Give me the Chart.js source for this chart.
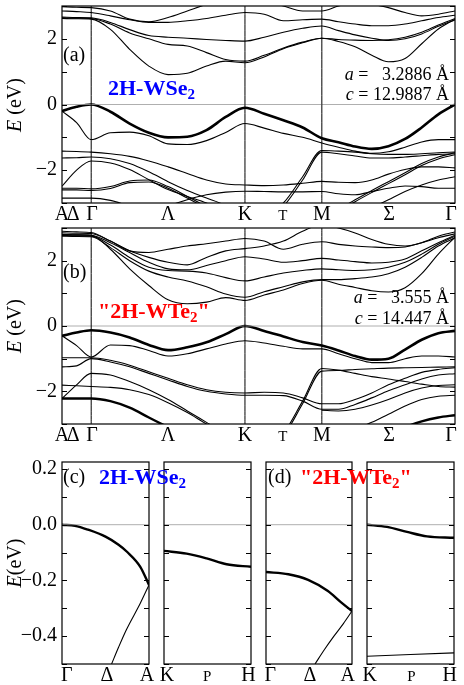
<!DOCTYPE html>
<html>
<head>
<meta charset="utf-8">
<script src="https://cdn.jsdelivr.net/npm/chart.js@4.4.1/dist/chart.umd.min.js"></script>
<style>
  html, body { margin: 0; padding: 0; background: #fff; }
  #fig { position: relative; width: 464px; height: 685px; overflow: hidden;
         font-family: "Liberation Serif", "Times New Roman", serif; color: #000; }
  canvas { position: absolute; }
  .lbl { position: absolute; white-space: pre; line-height: 1; }
  .sys { font-weight: bold; font-size: 22px; }
  .sys sub { font-size: 15px; vertical-align: -4px; line-height: 0; }
  .par { font-size: 18px; }
  .ylab { position: absolute; font-size: 20px; line-height: 1; white-space: nowrap;
          transform: translate(-50%, -50%) rotate(-90deg); }
</style>
</head>
<body>
<div id="fig">
  <canvas id="cA" width="464" height="225" style="left:0;top:0"></canvas>
  <canvas id="cB" width="464" height="224" style="left:0;top:222px"></canvas>
  <canvas id="cC1" width="157" height="230" style="left:0;top:455px"></canvas>
  <canvas id="cC2" width="100" height="230" style="left:157px;top:455px"></canvas>
  <canvas id="cD1" width="100" height="230" style="left:257px;top:455px"></canvas>
  <canvas id="cD2" width="106" height="230" style="left:358px;top:455px"></canvas>

  <div class="ylab" style="left:14px;top:105px"><i>E</i> (eV)</div>
  <div class="ylab" style="left:14px;top:326px"><i>E</i> (eV)</div>
  <div class="ylab" style="left:14px;top:563px"><i>E</i>(eV)</div>

  <div class="lbl" style="left:63px;top:44px;font-size:20px">(a)</div>
  <div class="lbl sys" style="left:108px;top:77px;color:#0000ff">2H-WSe<sub>2</sub></div>
  <div class="lbl par" style="right:15px;top:65px"><i>a</i> =   3.2886 Å</div>
  <div class="lbl par" style="right:15px;top:85px"><i>c</i> = 12.9887 Å</div>

  <div class="lbl" style="left:63px;top:261px;font-size:20px">(b)</div>
  <div class="lbl sys" style="left:98px;top:300px;color:#ff0000">"2H-WTe<sub>2</sub>"</div>
  <div class="lbl par" style="right:15px;top:288px"><i>a</i> =   3.555 Å</div>
  <div class="lbl par" style="right:15px;top:309px"><i>c</i> = 14.447 Å</div>

  <div class="lbl" style="left:63px;top:466px;font-size:20px">(c)</div>
  <div class="lbl sys" style="left:99px;top:466px;color:#0000ff">2H-WSe<sub>2</sub></div>
  <div class="lbl" style="left:268px;top:466px;font-size:20px">(d)</div>
  <div class="lbl sys" style="left:300px;top:466px;color:#ff0000">"2H-WTe<sub>2</sub>"</div>
</div>

<script>
// ---------- path A-Γ-K-M-Γ (k in units of 2π/a) ----------
const kPts = [0, 0.0633, 0.1266, 0.2099, 0.2933, 0.3766, 0.4599, 0.5433, 0.6266, 0.7099, 0.7933,
              0.8766, 0.9599, 1.0433, 1.1266, 1.1988, 1.2709, 1.3431, 1.4153, 1.4875, 1.5596, 1.6318, 1.704];
const kEnd = 1.704;
const symK = [0.1266, 0.7933, 1.1266];            // Γ, K, M
const pathTicks = [0, 0.048, 0.130, 0.46, 0.7933, 0.958, 1.1266, 1.418, 1.687];
const pathLabels = ['A', 'Δ', 'Γ', 'Λ', 'K', 'T', 'M', 'Σ', 'Γ'];
const eTicks = [-3, -2, -1, 0, 1, 2, 3];

// ---------- (a) 2H-WSe2 ----------
const wse2Top = [-0.2, -0.07, 0, -0.22, -0.58, -0.86, -1.0, -0.98, -0.78, -0.38, -0.1, -0.28, -0.48, -0.7, -1.03, -1.15, -1.28, -1.35, -1.27, -1.05, -0.7, -0.3, 0];
const wse2Cond = [
  [2.62, 2.61, 2.6, 2.29, 1.68, 1.17, 0.91, 0.95, 1.17, 1.32, 1.27, 1.45, 1.7, 1.88, 2.02, 1.92, 1.76, 1.5, 1.3, 1.4, 1.85, 2.3, 2.6],
  [2.64, 2.63, 2.62, 2.45, 2.18, 2.0, 1.83, 1.78, 1.58, 1.37, 1.32, 1.5, 1.72, 1.9, 2.02, 1.98, 1.96, 1.95, 1.97, 2.05, 2.2, 2.42, 2.62],
  [2.66, 2.65, 2.64, 2.5, 2.28, 2.1, 2.05, 2.02, 1.98, 1.95, 1.93, 2.05, 2.2, 2.32, 2.39, 2.25, 2.12, 2.02, 1.95, 2.0, 2.15, 2.38, 2.58],
  [2.85, 2.83, 2.8, 2.7, 2.58, 2.5, 2.5, 2.55, 2.62, 2.72, 2.8, 2.75, 2.55, 2.58, 2.6, 2.52, 2.45, 2.4, 2.4, 2.45, 2.55, 2.65, 2.72],
  [2.98, 2.96, 2.95, 2.85, 2.6, 2.52, 2.65, 2.85, 3.05, 3.2, 3.2, 3.15, 3.0, 2.85, 2.85, 3.0, 3.1, 3.05, 2.95, 2.8, 2.7, 2.75, 2.85]
];
const wse2Val = [
  [-0.2, -0.55, -1.07, -0.86, -0.84, -0.95, -1.2, -1.22, -1.1, -0.85, -0.58, -0.72, -0.88, -1.0, -1.17, -1.3, -1.42, -1.49, -1.44, -1.3, -1.14, -1.07, -1.07],
  [-1.42, -1.43, -1.45, -1.5, -1.58, -1.72, -1.9, -2.1, -2.3, -2.42, -2.45, -2.47, -2.45, -2.4, -2.34, -2.37, -2.38, -2.3, -2.12, -1.98, -1.9, -1.9, -1.93],
  [-2.49, -2.0, -1.72, -1.78, -1.98, -2.29, -2.59, -2.8, -3.0, -3.3, -3.6, -3.4, -3.0, -2.2, -1.4, -1.42, -1.45, -1.5, -1.52, -1.52, -1.5, -1.47, -1.45],
  [-1.63, -1.62, -1.6, -1.65, -1.8, -2.05, -2.35, -2.62, -2.85, -3.1, -3.7, -3.5, -3.1, -2.3, -1.45, -1.5, -1.57, -1.63, -1.63, -1.6, -1.56, -1.52, -1.5],
  [-2.55, -2.55, -2.57, -2.5, -2.33, -2.3, -2.5, -2.8, -3.1, -3.3, null, null, null, null, null, null, null, null, null, null, null, null, null],
  [-2.6, -2.6, -2.62, -2.56, -2.38, -2.36, -2.55, -2.85, -3.15, -3.35, null, null, null, null, null, null, null, null, null, null, null, null, null],
  [null, null, null, null, null, -3.4, -3.1, -2.9, -2.75, -2.67, -2.64, -2.65, -2.66, -2.66, -2.65, -2.72, -2.75, -2.65, -2.55, -2.48, -2.5, -2.55, -2.55],
  [-2.85, -2.85, -2.85, -2.92, -3.1, -3.3, null, null, null, null, null, null, null, null, null, null, null, null, null, null, null, null, null],
  [null, null, null, null, null, null, null, null, null, null, null, null, null, null, -3.5, -3.2, -2.9, -2.62, -2.35, -2.08, -1.8, -1.6, -1.47],
  [null, null, null, null, null, null, null, null, null, null, null, null, null, null, -3.56, -3.26, -2.96, -2.68, -2.41, -2.14, -1.86, -1.66, -1.53],
  [null, null, null, null, null, null, null, null, null, null, null, null, null, null, null, -3.6, -3.4, -3.15, -2.9, -2.65, -2.45, -2.3, -2.2]
];

// ---------- (b) "2H-WTe2" ----------
const wte2Top = [-0.3, -0.2, -0.13, -0.2, -0.35, -0.58, -0.74, -0.65, -0.5, -0.25, 0, -0.15, -0.32, -0.49, -0.6, -0.75, -0.92, -1.03, -1.0, -0.72, -0.42, -0.22, -0.15];
const wte2Cond = [
  [2.8, 2.79, 2.78, 2.35, 1.75, 1.24, 0.8, 0.68, 0.73, 0.87, 0.78, 0.95, 1.1, 1.3, 1.4, 1.28, 1.18, 1.08, 1.04, 1.17, 1.6, 2.2, 2.72],
  [2.75, 2.74, 2.73, 2.4, 2.0, 1.68, 1.5, 1.38, 1.2, 0.98, 0.88, 1.05, 1.2, 1.35, 1.42, 1.42, 1.45, 1.5, 1.6, 1.8, 2.1, 2.45, 2.7],
  [2.77, 2.76, 2.75, 2.48, 2.1, 1.8, 1.7, 1.68, 1.62, 1.48, 1.38, 1.5, 1.62, 1.7, 1.75, 1.72, 1.7, 1.72, 1.8, 1.95, 2.2, 2.5, 2.75],
  [2.8, 2.79, 2.78, 2.55, 2.25, 1.95, 1.75, 1.72, 1.85, 2.0, 2.12, 2.05, 1.95, 2.0, 2.07, 2.02, 1.97, 1.93, 1.95, 2.05, 2.3, 2.55, 2.78],
  [2.85, 2.84, 2.83, 2.6, 2.3, 2.25, 2.35, 2.45, 2.52, 2.6, 2.68, 2.6, 2.35, 2.5, 2.58, 2.5, 2.45, 2.42, 2.4, 2.42, 2.55, 2.7, 2.82],
  [2.9, 2.88, 2.86, 2.6, 2.3, 2.1, 1.95, 1.87, 2.1, 2.3, 2.37, 2.45, 2.6, 2.9, 3.1, 3.0, 2.85, 2.65, 2.5, 2.45, 2.55, 2.75, 2.88]
];
const wte2Val = [
  [-0.3, -0.6, -0.95, -0.58, -0.6, -0.75, -0.92, -0.85, -0.7, -0.55, -0.45, -0.52, -0.62, -0.7, -0.7, -0.85, -1.0, -1.12, -1.12, -1.0, -0.92, -0.92, -0.95],
  [-0.97, -0.97, -0.97, -1.05, -1.2, -1.4, -1.6, -1.8, -1.95, -2.03, -2.05, -2.03, -2.05, -2.2, -2.38, -2.38, -2.25, -2.05, -1.8, -1.6, -1.42, -1.33, -1.28],
  [-1.25, -1.22, -1.0, -1.1, -1.25, -1.45, -1.65, -1.85, -2.0, -2.08, -2.12, -2.12, -2.13, -2.3, -2.55, -2.55, -2.4, -2.2, -1.98, -1.8, -1.62, -1.5, -1.46],
  [-2.22, -1.8, -1.45, -1.5, -1.7, -1.95, -2.25, -2.6, -2.95, -3.3, -3.6, -3.9, -3.3, -2.3, -1.3, -1.35, -1.45, -1.55, -1.62, -1.7, -1.78, -1.85, -1.87],
  [-1.81, -1.83, -1.85, -1.88, -1.95, -2.1, -2.35, -2.65, -3.0, -3.3, -3.6, -3.95, -3.38, -2.38, -1.38, -1.36, -1.33, -1.31, -1.29, -1.28, -1.27, -1.26, -1.25],
  [null, null, null, null, null, null, null, null, null, null, null, null, null, null, -2.58, -2.6, -2.55, -2.42, -2.25, -2.05, -1.9, -1.82, -1.8],
  [null, null, null, null, null, null, null, null, null, null, null, null, null, null, -3.4, -3.3, -3.15, -2.95, -2.7, -2.45, -2.25, -2.15, -2.12]
];
const wte2Heavy = [
  [-2.22, -2.22, -2.22, -2.3, -2.5, -2.8, -3.1, -3.4, null, null, null, null, null, null, null, null, null, null, null, null, null, null, null],
  [null, null, null, null, null, null, null, null, null, null, null, null, null, null, null, null, -3.8, -3.6, -3.35, -3.1, -2.92, -2.8, -2.73]
];

// ---------- (c),(d) zoom near the gap ----------
const zTicks = [-0.5, -0.4, -0.3, -0.2, -0.1, 0, 0.1, 0.2];
const gaLabels = ['Γ', 'Δ', 'A'];
const khLabels = ['K', 'P', 'H'];
const seGA_x = [0, 0.15, 0.3, 0.5, 0.65, 0.75, 0.9, 1];
const seGA_top = [0, -0.004, -0.018, -0.043, -0.072, -0.098, -0.151, -0.216];
const seGA_low_x = [0.57, 0.65, 0.74, 0.9, 1];
const seGA_low = [-0.5, -0.44, -0.377, -0.282, -0.216];
const seKH_x = [0, 0.26, 0.49, 0.72, 1];
const seKH_top = [-0.094, -0.104, -0.121, -0.142, -0.151];
const teGA_x = [0, 0.26, 0.49, 0.72, 0.87, 1];
const teGA_top = [-0.17, -0.178, -0.198, -0.238, -0.278, -0.31];
const teGA_low_x = [0.57, 0.68, 0.79, 0.9, 1];
const teGA_low = [-0.5, -0.448, -0.4, -0.355, -0.31];
const teKH_x = [0, 0.23, 0.46, 0.69, 1];
const teKH_top = [0, -0.008, -0.026, -0.042, -0.047];
const teKH_low_x = [0, 0.5, 1];
const teKH_low = [-0.472, -0.466, -0.46];

const FONT = "'Liberation Serif', 'Times New Roman', serif";

function line(xs, ys, width, color) {
  return {
    data: xs.map((x, i) => ({ x: x, y: ys[i] })),
    borderColor: color || '#000',
    borderWidth: width,
    pointRadius: 0,
    fill: false,
    spanGaps: false,
    cubicInterpolationMode: 'monotone'
  };
}

function fmtBig(v) {
  return v % 2 === 0 ? (v < 0 ? '\u2212' + (-v) : String(v)) : '';
}
function fmtZoom(v) {
  const n = Math.round(v * 10);
  if (n % 2 !== 0 || n < -4) return '';
  const s = Math.abs(v).toFixed(1);
  return n < 0 ? '\u2212' + s : s;
}

// frame + inward tick marks
const framePlugin = {
  id: 'frame',
  afterDatasetsDraw(chart) {
    const { ctx, chartArea: a, scales } = chart;
    ctx.save();
    ctx.strokeStyle = '#000';
    ctx.lineWidth = 1.2;
    ctx.strokeRect(a.left, a.top, a.right - a.left, a.bottom - a.top);
    ctx.lineWidth = 1;
    ctx.beginPath();
    scales.y.ticks.forEach(t => {
      const p = Math.round(scales.y.getPixelForValue(t.value)) + 0.5;
      ctx.moveTo(a.left, p); ctx.lineTo(a.left + 5, p);
      ctx.moveTo(a.right - 5, p); ctx.lineTo(a.right, p);
    });
    ctx.stroke();
    ctx.restore();
  }
};

function panel(id, o) {
  return new Chart(document.getElementById(id), {
    type: 'line',
    data: { datasets: o.datasets },
    options: {
      responsive: false,
      animation: false,
      events: [],
      layout: { padding: o.pad },
      plugins: { legend: { display: false }, tooltip: { enabled: false } },
      scales: {
        x: {
          type: 'linear', min: 0, max: o.xMax,
          grid: { display: false, drawTicks: false },
          border: { display: false },
          afterBuildTicks: s => { s.ticks = o.xTicks.map(v => ({ value: v })); },
          afterFit: s => { s.height = o.xHeight; s.paddingLeft = 0; s.paddingRight = 0; },
          ticks: {
            autoSkip: false, maxRotation: 0, padding: o.xPad, color: '#000',
            callback: (v, i) => o.xLabels[i],
            // small letters (T, P) sit on the same baseline as the others
            font: c => o.small.includes(c.index)
              ? { family: FONT, size: 15, lineHeight: 26 / 15 }
              : { family: FONT, size: 20 }
          }
        },
        y: {
          type: 'linear', min: o.yMin, max: o.yMax,
          grid: { display: false, drawTicks: false },
          border: { display: false },
          afterBuildTicks: s => { s.ticks = o.yTicks.map(v => ({ value: v })); },
          afterFit: s => { s.width = o.yWidth; s.paddingTop = 0; s.paddingBottom = 0; },
          ticks: { padding: 5, color: '#000', font: { family: FONT, size: 20 }, callback: o.yFmt }
        }
      }
    },
    plugins: [framePlugin]
  });
}

function bigSets(top, cond, val, heavy) {
  const sets = [];
  symK.forEach(k => sets.push(line([k, k], [-3, 3], 1)));
  sets.push(line([0, kEnd], [0, 0], 0.8, '#9a9a9a'));
  cond.concat(val).forEach(b => sets.push(line(kPts, b, 1.1)));
  (heavy || []).forEach(b => sets.push(line(kPts, b, 2.4)));
  sets.push(line(kPts, top, 2.6));
  return sets;
}

const bigOpts = {
  xMax: kEnd, xTicks: pathTicks, xLabels: pathLabels, small: [5],
  yMin: -3, yMax: 3, yTicks: eTicks, yFmt: fmtBig, yWidth: 62, xHeight: 22, xPad: 0
};

panel('cA', Object.assign({}, bigOpts, {
  datasets: bigSets(wse2Top, wse2Cond, wse2Val),
  pad: { left: 0, right: 9, top: 6, bottom: 0 }
}));
panel('cB', Object.assign({}, bigOpts, {
  datasets: bigSets(wte2Top, wte2Cond, wte2Val, wte2Heavy),
  pad: { left: 0, right: 9, top: 6, bottom: 0 }
}));

const zoomOpts = { xMax: 1, yMin: -0.5, yMax: 0.225, yTicks: zTicks, xHeight: 21, xPad: 0 };
const zero = () => line([0, 1], [0, 0], 0.8, '#9a9a9a');

panel('cC1', Object.assign({}, zoomOpts, {
  datasets: [zero(), line(seGA_low_x, seGA_low, 1.1), line(seGA_x, seGA_top, 2.4)],
  xTicks: [0.054, 0.516, 0.977], xLabels: gaLabels, small: [],
  yFmt: fmtZoom, yWidth: 62, pad: { left: 0, right: 8, top: 7, bottom: 0 }
}));
panel('cC2', Object.assign({}, zoomOpts, {
  datasets: [zero(), line(seKH_x, seKH_top, 2.4)],
  xTicks: [0.035, 0.496, 0.97], xLabels: khLabels, small: [1],
  yFmt: () => '', yWidth: 0, pad: { left: 7, right: 6, top: 7, bottom: 0 }
}));
panel('cD1', Object.assign({}, zoomOpts, {
  datasets: [zero(), line(teGA_low_x, teGA_low, 1.1), line(teGA_x, teGA_top, 2.4)],
  xTicks: [0.05, 0.51, 0.95], xLabels: gaLabels, small: [],
  yFmt: () => '', yWidth: 0, pad: { left: 9, right: 5, top: 7, bottom: 0 }
}));
panel('cD2', Object.assign({}, zoomOpts, {
  datasets: [zero(), line(teKH_low_x, teKH_low, 1.1), line(teKH_x, teKH_top, 2.4)],
  xTicks: [0.03, 0.51, 0.95], xLabels: khLabels, small: [1],
  yFmt: () => '', yWidth: 0, pad: { left: 9, right: 10, top: 7, bottom: 0 }
}));
</script>
</body>
</html>
